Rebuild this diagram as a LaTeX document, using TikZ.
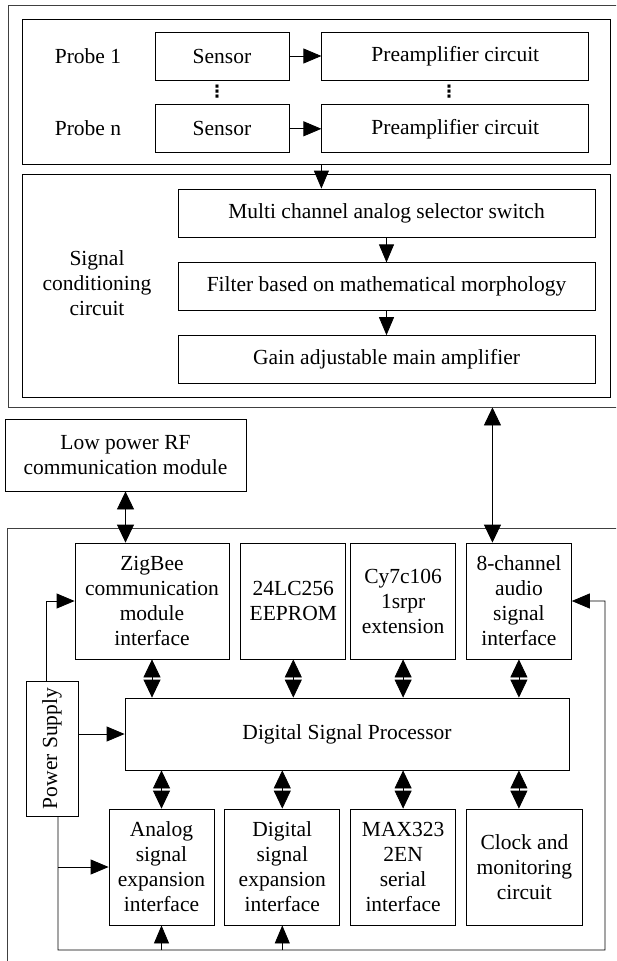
\documentclass[tikz,border=0pt]{standalone}
\usepackage{fontspec}
\setmainfont{Liberation Serif}
\newfontfamily\dotsfont{DejaVu Sans}
\usepackage{graphicx}
\usepackage{tikz}
\usetikzlibrary{positioning, arrows.meta, calc}

\begin{document}
\begin{tikzpicture}[x=1pt, y=-1pt, font=\fontsize{21.5}{25}\selectfont]
	% Define styles
	\tikzset{
		block/.style={rectangle, draw, line width=0.8pt, align=center, inner sep=1pt, minimum height=48pt},
		tag/.style={align=center, inner sep=1pt},
		vdot/.style={inner sep=0pt, font=\dotsfont\bfseries\fontsize{17}{17}\selectfont},
		frame/.style={rectangle, draw, line width=0.8pt, inner sep=0pt},
		line/.style={draw, line width=0.8pt, -{Triangle[length=18pt, width=15pt]}},
		dline/.style={draw, line width=0.8pt, {Triangle[length=18pt, width=17pt]}-{Triangle[length=18pt, width=17pt]}}
	}
	\path[use as bounding box, clip] (0,0) rectangle (616,961);

	% Frames
	\node[frame, draw=black!75, minimum width=622pt, minimum height=402pt] (top) at (319,206) {};
	\node[frame, minimum width=588pt, minimum height=145pt] (probes) at (316,91.5) {};
	\node[frame, minimum width=588pt, minimum height=223pt] (sigc) at (316,285.5) {};
	\node[frame, draw=black!75, minimum width=623pt, minimum height=472pt] (bot) at (318.5,764) {};

	% Probes
	\node[tag] (p1) at (88,56) {Probe 1};
	\node[tag] (pn) at (88,128) {Probe n};
	\node[block, minimum width=134pt] (sen1) at (222,56) {Sensor};
	\node[block, minimum width=267pt, right=32pt of sen1] (pre1) {Preamplifier circuit};
	\node[block, minimum width=134pt, below=24pt of sen1] (senn) {Sensor};
	\node[block, minimum width=267pt, right=32pt of senn] (pren) {Preamplifier circuit};
	\node[vdot] (dots1) at (217,92) {⋮};
	\node[vdot] (dots2) at (449,92) {⋮};

	% Signal conditioning
	\node[tag] (sig) at (97,283) {Signal\\conditioning\\circuit};
	\node[block, minimum width=417pt] (multi) at (386.5,213) {Multi channel analog selector switch};
	\node[block, minimum width=417pt, below=25pt of multi] (filt) {Filter based on mathematical morphology};
	\node[block, minimum width=417pt, below=24pt of filt] (gain) {Gain adjustable main amplifier};

	% RF module
	\node[block, minimum width=241pt, minimum height=72pt] (rf) at (125.5,455) {Low power RF\\communication module};

	% Upper row
	\node[block, minimum width=154pt, minimum height=116pt] (zig) at (152,601) {ZigBee\\communication\\module\\interface};
	\node[block, minimum width=105pt, minimum height=116pt, right=11pt of zig] (eep) {24LC256\\EEPROM};
	\node[block, minimum width=105pt, minimum height=116pt, right=4pt of eep] (cy) {Cy7c106\\1srpr\\extension};
	\node[block, minimum width=105pt, minimum height=116pt, right=10pt of cy] (ch8) {8-channel\\audio\\signal\\interface};

	% DSP and power
	\node[block, minimum width=444pt, minimum height=72pt] (dsp) at (347,734) {Digital Signal Processor};
	\node[block, minimum width=52pt, minimum height=135pt] (ps) at (52,748.5) {\rotatebox{90}{Power Supply}};

	% Lower row
	\node[block, minimum width=105pt, minimum height=116pt] (ana) at (161.5,867) {Analog\\signal\\expansion\\interface};
	\node[block, minimum width=115pt, minimum height=116pt, right=10pt of ana] (dig) {Digital\\signal\\expansion\\interface};
	\node[block, minimum width=105pt, minimum height=116pt, right=10pt of dig] (max) {MAX323\\2EN\\serial\\interface};
	\node[block, minimum width=116pt, minimum height=116pt, right=10pt of max] (clk) {Clock and\\monitoring\\circuit};

	% Coordinates
	\coordinate (a8) at ($(ch8.north west)!.25!(ch8.north east)$);
	\coordinate (psn) at ($(ps.north west)!.4!(ps.north east)$);
	\coordinate (pss) at ($(ps.south west)!.615!(ps.south east)$);
	\coordinate (bl) at (58,950);
	\coordinate (br) at (605,950);

	% Arrows
	\draw[line] (sen1) -- (pre1);
	\draw[line] (senn) -- (pren);
	\draw[line] (pren.west |- probes.south) -- (pren.west |- multi.north);
	\draw[line] (multi) -- (filt);
	\draw[line] (filt) -- (gain);

	\draw[dline] (rf.south) -- (rf.south |- zig.north);
	\draw[dline] (a8 |- top.south) -- (a8);

	\draw[dline] (zig.south) -- (zig.south |- dsp.north);
	\draw[dline] (eep.south) -- (eep.south |- dsp.north);
	\draw[dline] (cy.south) -- (cy.south |- dsp.north);
	\draw[dline] (ch8.south) -- (ch8.south |- dsp.north);

	\draw[dline] (ana.north) -- (ana.north |- dsp.south);
	\draw[dline] (dig.north) -- (dig.north |- dsp.south);
	\draw[dline] (max.north) -- (max.north |- dsp.south);
	\draw[dline] (ch8.south |- clk.north) -- (ch8.south |- dsp.south);

	\draw[line] (psn) |- (zig.west);
	\draw[line] (ps.east |- dsp.west) -- (dsp.west);
	\draw[line] (pss) -- (bl) -- (br) |- (ch8.east);
	\draw[line] (pss |- ana.west) -- (ana.west);
	\draw[line] (ana.south |- bl) -- (ana.south);
	\draw[line] (dig.south |- bl) -- (dig.south);
\end{tikzpicture}
\end{document}
